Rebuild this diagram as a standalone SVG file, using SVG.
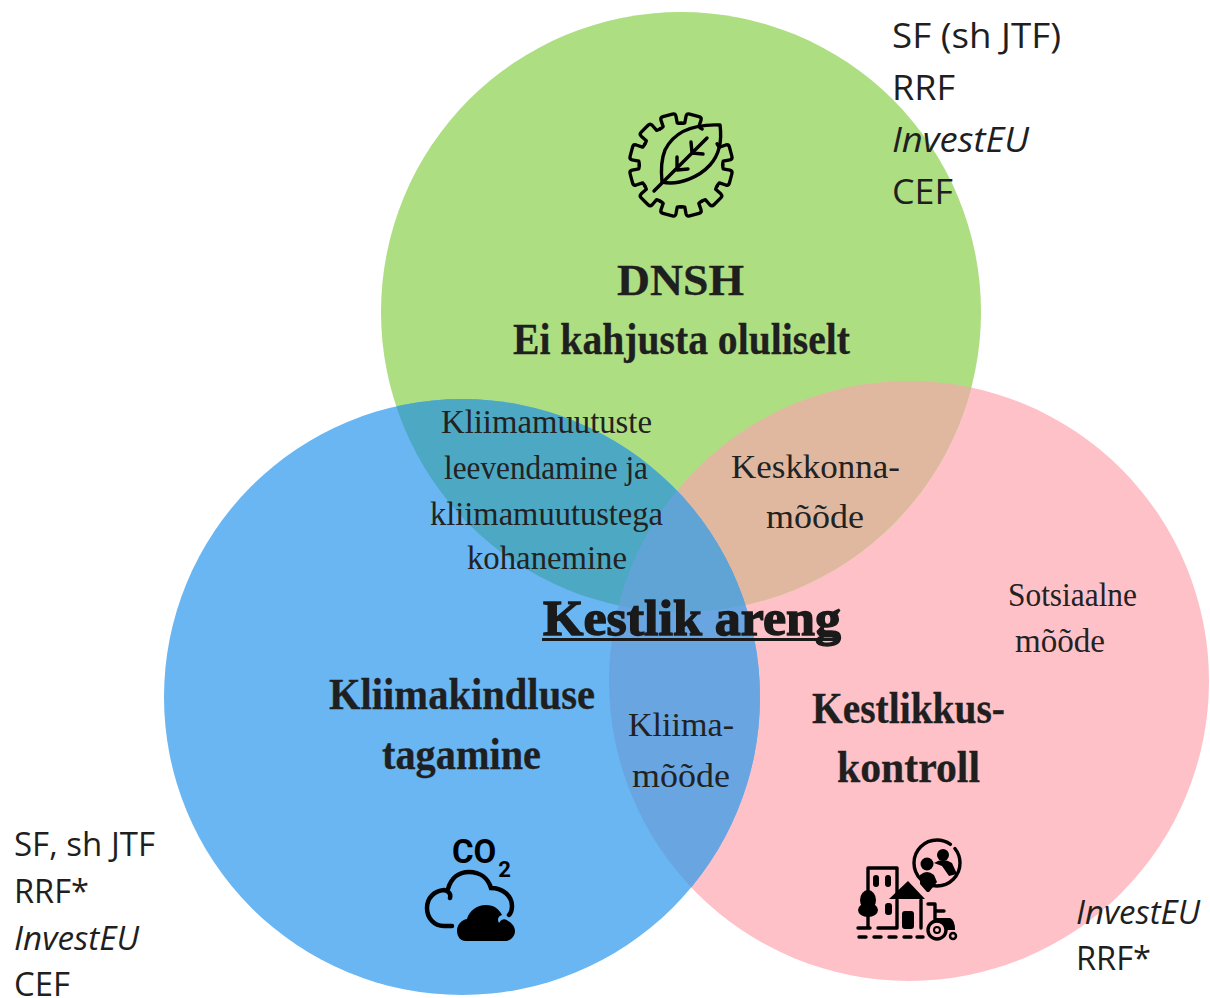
<svg xmlns="http://www.w3.org/2000/svg" width="1210" height="998" viewBox="0 0 1210 998">
<style>
.san{font-family:"Open Sans","Liberation Sans",sans-serif;fill:#1f1f1f}
.i{font-style:italic}
.ser{font-family:"Liberation Serif",serif;fill:#222;font-size:33px}
.b{font-family:"Liberation Serif",serif;fill:#1f1f1f;font-weight:bold;font-size:44px;stroke:#1f1f1f;stroke-width:.3}
.ln{fill:none;stroke:#000;stroke-width:3.4;stroke-linecap:round;stroke-linejoin:round}
</style>
<defs>
<clipPath id="cg"><circle cx="681" cy="312" r="300"/></clipPath>
<clipPath id="cp"><circle cx="909" cy="681" r="300"/></clipPath>
<path id="tooth" d="M-11.5-41.5Q-9-42-7.5-43L-8-50Q-8-53-5-53L5-53Q8-53 8-50L7.5-43Q9-42 11.5-41.5"/>
</defs>
<rect width="1210" height="998" fill="#fff"/>
<g id="circles">
<circle id="circle-pink" cx="909" cy="681" r="300" fill="#fec1c8"/>
<circle id="circle-green" cx="681" cy="312" r="300" fill="#aede82"/>
<circle id="circle-blue" cx="462" cy="697" r="298" fill="#69b6f3"/>
<g clip-path="url(#cg)"><circle cx="909" cy="681" r="300" fill="#e0b8a0"/></g>
<g clip-path="url(#cg)"><circle cx="462" cy="697" r="298" fill="#4da8c4"/></g>
<g clip-path="url(#cp)"><circle cx="462" cy="697" r="298" fill="#69a6e1"/></g>
<g clip-path="url(#cg)"><g clip-path="url(#cp)"><circle cx="462" cy="697" r="298" fill="#60a4d6"/></g></g>
</g>
<g id="icon-gear" class="ln">
<g transform="translate(681 165) scale(.97)">
<use href="#tooth" transform="rotate(-15)"/><use href="#tooth" transform="rotate(15)"/>
<use href="#tooth" transform="rotate(75)"/><use href="#tooth" transform="rotate(105)"/><use href="#tooth" transform="rotate(135)"/><use href="#tooth" transform="rotate(165)"/><use href="#tooth" transform="rotate(195)"/><use href="#tooth" transform="rotate(225)"/><use href="#tooth" transform="rotate(255)"/><use href="#tooth" transform="rotate(285)"/><use href="#tooth" transform="rotate(315)"/>
</g>
<path d="M720 125C695 124 675 130 665 150C661 160 661 172 662 182C680 186 700 176 710 165C719 155 722 140 720 125Z"/>
<path d="M654 191L707 138M677 157L677 170L688 169M691 142L692 153L703 154"/>
</g>
<g id="icon-co2">
<text x="452" y="863" font-family="Roboto,sans-serif" font-weight="bold" font-size="33" fill="#000">CO<tspan font-size="22" dx="2" dy="14">2</tspan></text>
<path d="M452 926L444 926C434 926 427 918 427 908C427 898 434 891 444 890C449 891 451 894 450 898M448 889C451 878 459 872 469 872C480 872 488 878 491 888C503 888 512 896 512 906C512 910 511 913 509 915" fill="none" stroke="#000" stroke-width="4.5" stroke-linecap="round"/>
<path d="M466 941C460 941 457 936 457 931C457 925 461 920 467 919C469 911 477 905 486 905C494 905 499 909 502 915C498 916 497 920 499 923C502 918 506 919 508 921C512 923 515 927 515 931C515 937 510 941 505 941Z" fill="#000"/>
</g>
<g id="icon-people">
<circle class="ln" cx="937" cy="863" r="23" stroke-dasharray="122 6 16 0"/>
<circle cx="943" cy="855" r="6" fill="#000"/><path d="M934 863Q943 857 952 863L957 874L949 876L942 866Z" fill="#000"/>
<circle cx="927" cy="864" r="6.5" fill="#000"/><path d="M920 875Q927 869 934 875L937 882L929 892L927 892L920 884Z" fill="#000"/>
<path class="ln" d="M868 928V868H897V896M897 900V928M921 900V928M858 928H870M878 928H897M859 937H866M874 937H881M889 937H896M904 937H911M917 937H923M868 906V926M861 909L868 914L875 909"/>
<rect x="873" y="875" width="6" height="12" rx="3" fill="#000"/><rect x="885" y="875" width="6" height="12" rx="3" fill="#000"/><rect x="885" y="903" width="7" height="12" rx="3" fill="#000"/>
<path d="M889 899L908 881L925 899Z" fill="#000"/><rect x="902" y="911" width="12" height="18" rx="3" fill="#000"/>
<ellipse cx="868" cy="900" rx="8" ry="10" fill="#000"/><ellipse cx="868" cy="910" rx="10" ry="7" fill="#000"/>
<path class="ln" d="M928 904H935V920M935 911H944"/>
<path d="M935 918H950Q955 920 955 930H947Q943 922 935 922Z" fill="#000"/>
<circle class="ln" cx="937" cy="930" r="9"/><circle cx="937" cy="930" r="3" fill="none" stroke="#000" stroke-width="2"/><circle cx="953" cy="936" r="3" fill="none" stroke="#000" stroke-width="2.5"/>
</g>
<g id="labels-funding">
<g class="san" font-size="35"><text x="892" y="48" textLength="169" lengthAdjust="spacingAndGlyphs">SF (sh JTF)</text><text x="892" y="100" textLength="63" lengthAdjust="spacingAndGlyphs">RRF</text><text class="i" x="892" y="152" textLength="137" lengthAdjust="spacingAndGlyphs">InvestEU</text><text x="892" y="204" textLength="61" lengthAdjust="spacingAndGlyphs">CEF</text></g>
<g class="san" font-size="32"><text x="14" y="856" textLength="141" lengthAdjust="spacingAndGlyphs">SF, sh JTF</text><text x="14" y="903" textLength="75" lengthAdjust="spacingAndGlyphs">RRF*</text><text class="i" x="14" y="950" textLength="125" lengthAdjust="spacingAndGlyphs">InvestEU</text><text x="14" y="996" textLength="56" lengthAdjust="spacingAndGlyphs">CEF</text></g>
<g class="san" font-size="32"><text class="i" x="1076" y="924" textLength="124" lengthAdjust="spacingAndGlyphs">InvestEU</text><text x="1076" y="970" textLength="75" lengthAdjust="spacingAndGlyphs">RRF*</text></g>
</g>
<g id="node-dnsh"><text class="b" x="617" y="295" textLength="127" lengthAdjust="spacingAndGlyphs" font-size="48">DNSH</text><text class="b" x="513" y="354" textLength="337" lengthAdjust="spacingAndGlyphs">Ei kahjusta oluliselt</text></g>
<g id="node-kliimakindluse"><text class="b" x="329" y="709" textLength="266" lengthAdjust="spacingAndGlyphs">Kliimakindluse</text><text class="b" x="382" y="769" textLength="159" lengthAdjust="spacingAndGlyphs">tagamine</text></g>
<g id="node-kestlikkus"><text class="b" x="812" y="723" textLength="193" lengthAdjust="spacingAndGlyphs">Kestlikkus-</text><text class="b" x="837" y="782" textLength="143" lengthAdjust="spacingAndGlyphs">kontroll</text></g>
<g id="node-kliimamuutused"><text class="ser" x="441" y="433" textLength="211" lengthAdjust="spacingAndGlyphs">Kliimamuutuste</text><text class="ser" x="444" y="479" textLength="204" lengthAdjust="spacingAndGlyphs">leevendamine ja</text><text class="ser" x="430" y="525" textLength="233" lengthAdjust="spacingAndGlyphs">kliimamuutustega</text><text class="ser" x="467" y="569" textLength="160" lengthAdjust="spacingAndGlyphs">kohanemine</text></g>
<g id="node-keskkonna"><text class="ser" x="731" y="478" textLength="169" lengthAdjust="spacingAndGlyphs">Keskkonna-</text><text class="ser" x="766" y="528" textLength="98" lengthAdjust="spacingAndGlyphs">mõõde</text></g>
<g id="node-sotsiaalne"><text class="ser" x="1008" y="606" textLength="129" lengthAdjust="spacingAndGlyphs">Sotsiaalne</text><text class="ser" x="1015" y="652" textLength="90" lengthAdjust="spacingAndGlyphs">mõõde</text></g>
<g id="node-kliima"><text class="ser" x="628" y="736" textLength="106" lengthAdjust="spacingAndGlyphs">Kliima-</text><text class="ser" x="632" y="787" textLength="98" lengthAdjust="spacingAndGlyphs">mõõde</text></g>
<g id="node-kestlik"><text x="543" y="635" font-family="'Liberation Serif',serif" font-weight="bold" font-size="50" textLength="298" lengthAdjust="spacingAndGlyphs" fill="#1a1a1a" stroke="#1a1a1a" stroke-width="1.4">Kestlik areng</text><rect x="542" y="638" width="298" height="3" fill="#1a1a1a"/></g>
<g id="connectors"/>
</svg>
